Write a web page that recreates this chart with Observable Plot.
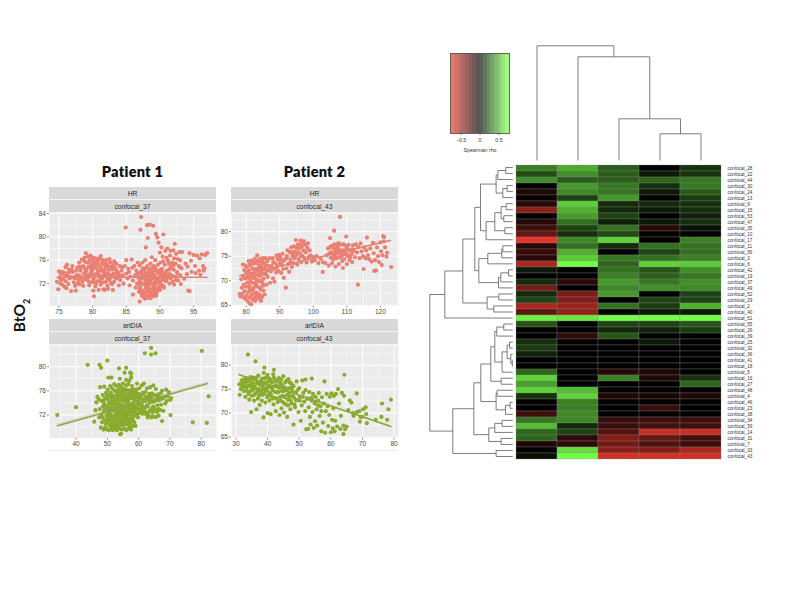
<!DOCTYPE html>
<html><head><meta charset="utf-8">
<script src="https://cdn.jsdelivr.net/npm/d3@7"></script>
<script src="https://cdn.jsdelivr.net/npm/@observablehq/plot@0.6"></script>
<style>
html,body{margin:0;padding:0;background:#fff}
#page{position:relative;width:792px;height:612px;overflow:hidden;font-family:"Liberation Sans",sans-serif}
#page>svg,#page>div{position:absolute}
.title{font:800 14.6px Lato,sans-serif;color:#111;text-align:center;letter-spacing:.2px}
.strip{background:#d9d9d9;color:#2a2a2a;font-size:6.7px;text-align:center;line-height:13px;border-bottom:.6px solid #f4f4f4;box-sizing:border-box}
</style></head><body><div id="page"></div>
<script>
const patient1HR = [
74.7,72.3,74.9,71,75,74.1,75.1,73,75.2,72,75.3,73.6,75.4,74,75.5,71.8,75.6,72.8,75.8,71.5,75.9,73.3,76,74.8,76,72.4,76.2,75.2,76.3,73.8,76.4,71.9,76.5,74.4,76.6,72.9,76.8,70.7,76.9,73.1,77,75,77.1,74,77.2,72.2,77.4,71.6,77.5,70.8,77.6,73.4,77.7,74.7,77.9,72.6,78,75.6,78.1,71.9,78.2,74.2,78.3,73,78.4,76.1,78.5,72.3,78.6,75,78.7,73.7,78.8,76.4,78.9,74.5,79,77.2,79,72.7,79.1,75.6,79.2,73.4,79.3,76.6,79.4,74.9,79.5,71.7,79.6,76,79.7,73.9,79.8,75.2,79.9,72.2,80,76.4,80,74.3,80.1,70.8,80.1,75.7,80.2,73,80.2,69.8,80.3,74.9,80.4,71.5,80.4,76.3,80.5,73.6,80.6,75.3,80.7,72.4,80.8,74.1,80.9,70.9,81,76.3,81,73.2,81.1,75,81.2,71.8,81.3,74.5,81.4,72.9,81.5,76,81.6,75.3,81.6,71,81.7,73.7,81.8,70.9,81.9,74.8,82,72.3,82,76,82.1,73.4,82.2,75.3,82.3,71.1,82.4,74.3,82.5,72.7,82.6,75.7,82.7,73.1,82.8,74.8,82.9,71.9,83,70.9,83,75.2,83.1,73.7,83.2,72.3,83.4,74.5,83.5,75.4,83.6,72.9,83.8,73.8,83.9,71.7,84,75,84.1,72.6,84.3,74.2,84.5,73.4,84.6,72,84.8,75,84.9,81.6,85,73.7,85,76,85.2,72.9,85.3,74.5,85.5,71.7,85.6,73.2,85.8,76.1,85.9,74.7,86,72.5,86,70.1,86.2,75,86.3,73.4,86.4,71.3,86.5,74.2,86.6,72,86.7,75.6,86.8,73,86.9,70.6,87,68.9,87,72.4,87,75.1,87.1,81.2,87.1,71.4,87.2,83.4,87.2,74,87.3,69.9,87.3,72.9,87.4,70.8,87.4,75.6,87.5,73.4,87.6,71.9,87.6,69.6,87.7,74.5,87.7,70.5,87.8,72.6,87.8,76,87.9,71.2,87.9,78.2,88,73.8,88,69.9,88.1,82,88.1,72.1,88.1,75,88.2,70.7,88.2,79.8,88.3,73.2,88.3,71.5,88.4,69.5,88.4,74.3,88.5,82.1,88.5,72.5,88.5,70.2,88.6,75.4,88.6,71,88.7,73.5,88.7,69.7,88.8,72,88.8,76.5,88.9,70.8,88.9,74,89,81.9,89,72.8,89,71.5,89.1,69.9,89.1,75,89.2,73.3,89.2,70.5,89.3,71.8,89.3,76,89.4,74.2,89.4,80.5,89.5,72.4,89.5,70.3,89.6,73,89.6,79.9,89.7,71.2,89.7,75.2,89.8,74,89.8,79,89.9,72,90,77.3,90,70.9,90.1,73.5,90.1,75.6,90.2,78.2,90.2,71.8,90.3,74.5,90.4,76.6,90.4,72.6,90.5,80.4,90.6,73.4,90.6,71.3,90.7,75.2,90.8,77.6,90.9,72.4,91,74.2,91,76.4,91.1,78,91.2,73.2,91.3,75.4,91.4,72,91.5,76.8,91.5,74.6,91.6,77.6,91.7,73.4,91.8,75.6,91.9,72.3,92,77.7,92,74.4,92.1,76.3,92.1,71.8,92.2,78.8,92.3,73.2,92.3,75.4,92.4,77.1,92.5,74,92.6,76.2,92.7,72.5,92.8,75,92.9,77.4,93,73.4,93,76,93.1,71.9,93.2,74.6,93.3,77.4,93.6,72.8,93.8,75.4,94,73.6,94.1,74.9,94.2,70.8,94.4,70.7,94.4,77.2,94.6,75.9,94.7,74,95,76.9,95.2,75,95.3,73.8,95.5,76.8,95.8,74.2,95.9,76.3,96,73.5,96.2,77,96.4,75,96.5,74.2,96.6,74.6,96.7,76.9,97,77.2
];
const patient1HRCore = [
75.3,72.6,75.7,73.9,76.1,71.2,76.7,74,77.3,73,77.8,72,78,73.4,78.3,74.8,78.6,71.6,78.9,73.2,79.1,74.4,79.4,72.3,79.4,75.7,79.7,76.8,79.9,74.7,80.1,72.7,80.3,75.7,80.5,71.9,80.7,76.1,80.9,73.6,81.1,72.4,81.2,76.7,81.4,74.2,81.6,72.2,81.8,75.6,82,73.7,82.2,71.6,82.3,74.9,82.5,76.2,82.7,72.1,82.9,74.4,83.2,75.8,83.3,73,83.6,74.1,84,73.4,84.4,74.8,86.9,73.8,87,71,87.2,70.4,87.3,73.5,87.5,74.6,87.5,70.1,87.7,72,87.8,69.4,87.9,73.3,88,71.5,88,74.7,88.2,72.6,88.3,69.9,88.4,70.9,88.4,73.8,88.6,72.2,88.6,69.5,88.7,74.6,88.8,70.4,88.9,71.9,89,73.6,89,70.6,89.2,72.1,89.3,74.6,89.4,71.1,89.4,69.9,89.6,72.4,89.7,73.8,89.8,70.9,90,74.3,90,72.3,90.2,73.1,90.5,75.8,90.5,71.6,90.8,73.8,91,72.7,91.2,75.9,91.4,73.6,91.7,75,92,73.2,92.4,72.6,92.6,73.8,93,74.8
];
const patient1HRFill = [
76.4,73.2,76.9,74.4,77.4,72.9,77.6,74.2,78,74.9,78.4,72.7,78.8,75.8,79,74,79.3,72.9,79.6,73.4,79.8,74.6,80,73.6,80.2,75.1,80.3,72.2,80.6,74.6,80.8,75.7,81,74.2,81.2,73,81.4,75.5,81.6,73.3,81.8,74.2,82,75,82.2,72.8,82.4,73.6,82.6,74.7,82.8,73.4,83.2,74.9,83.5,73.5,85.4,74,86.6,73.6,86.9,71.8,87.2,72.1,87.4,74.4,87.6,70.4,87.8,73.9,87.9,70,88.1,73,88.2,71.9,88.4,72.9,88.6,70.3,88.7,72.9,88.9,70.1,89,74.7,89.2,71.2,89.4,72.9,89.6,70.9,89.8,72.6,90,71.4,90.2,74,90.4,73.8,90.7,72.6,91,73.4,91.4,74.4,91.6,72.9,92,75.1
];
const patient1ArtDIA = [
34,72,40,73.3,43.7,80.3,47.5,80.3,48,79.8,50,81,50.3,78.2,51.3,78.2,53.7,79.7,56,79.8,55.5,79,57.3,79,57.6,78.8,54,78,56,77.8,57,77.7,57.6,78.2,62,82.2,64,83.1,64,82,65.4,82.2,80.2,82.6,82.4,75.1,77.3,70.8,81.8,70.7,70.2,72,54.1,68.8,54.4,68.9,67.5,71,62.9,71.6,64.4,71.8,65.6,71.7,
45.8,70.9,46.2,72.8,46.5,74.1,46.8,75,47.3,74.6,47.4,71.6,47.6,73,47.7,76.6,47.9,69.9,48.1,72,48.2,74.3,48.3,70.8,48.5,75.3,48.6,73.4,48.8,69.6,48.9,72.6,49,76.7,49.1,71.2,49.2,74.8,49.3,70,49.4,73.5,49.6,75.7,49.7,71.9,49.8,69.7,49.9,72.9,50,74.6,50,70.7,50.1,76.2,50.2,73.4,50.3,69.5,50.4,71.5,50.5,75.2,50.6,72.4,50.7,70.3,50.8,74.1,50.9,76.8,51,69.6,51,73,51.1,71.1,51.2,75.4,51.3,72,51.4,70,51.5,74.4,51.6,76.4,51.7,73.3,51.8,69.5,51.9,71.4,52,75,52,72.7,52.1,70.4,52.2,77.1,52.3,74,52.4,69.7,52.5,71.9,52.6,73.5,52.7,75.9,52.8,70.7,52.9,72.8,53,76.8,53,74.6,53.1,69.5,53.2,71.2,53.3,73.2,53.4,75.4,53.5,70.2,53.6,72.3,53.7,77,53.8,74,53.9,69.8,54,71.5,54,73.3,54.1,75.9,54.2,70.7,54.3,72.8,54.4,76.6,54.5,74.7,54.6,69.6,54.7,71.9,54.8,73.6,54.9,75.4,55,70.3,55,77.2,55.1,72.4,55.2,74.3,55.3,71.2,55.4,76.2,55.5,69.7,55.6,73.1,55.7,75,55.8,70.9,55.9,72.5,56,76.9,56,74.2,56.1,69.5,56.2,71.6,56.3,73.7,56.4,75.6,56.5,70.4,56.6,72.7,56.7,77.1,56.8,74.6,56.9,69.8,57,71.4,57,73.3,57.1,76.1,57.2,70.7,57.3,72.2,57.4,74.9,57.5,75.8,57.6,69.6,57.7,73.8,57.8,71.5,57.9,76.8,58,72.8,58.1,75,58.2,70.2,58.3,74,58.4,71.9,58.5,73.1,58.6,76.2,58.8,72.6,58.9,74.8,59,70.2,59.1,73.6,59.2,75.7,59.4,72.1,59.5,77.2,59.6,74.3,59.8,73,60,75.5,60,72.3,60.2,76.4,60.3,74,60.5,73,60.7,75.2,60.9,72.7,61,76.9,61,74,61.2,73.4,61.4,75.4,61.6,72.6,61.7,77.2,61.8,74.4,62,73.2,62.2,75.8,62.4,72.1,62.5,74.6,62.7,76.4,62.9,73.4,63,75,63.2,71.9,63.4,74,63.6,72.7,63.7,76.6,63.9,74.8,64,73,64.1,71.6,64.3,75.6,64.5,72.4,64.7,76.9,64.8,74.2,65,73.1,65.1,75.3,65.3,71.7,65.5,76.3,65.7,74.5,65.9,72.5,66,73.6,66.2,75.4,66.4,71.9,66.6,74.4,66.9,72.8,67,75.6,67.2,73.7,67.5,76,67.7,74.7,67.9,72.7,68.2,75,68.5,73.9,68.8,76.2,69,74.3,69.3,75.1,69.7,75.8,70.1,74.5,70.4,74.8
];
const patient1ArtDIACore = [
48.4,71.6,48.8,74.4,49.2,72.9,49.5,70.6,49.9,75.3,50.2,72.1,50.5,74,50.7,71.1,51,75.7,51.2,73.7,51.3,70.6,51.6,72.8,51.8,75.2,52,71.1,52.2,73.2,52.3,76,52.5,70.3,52.6,74.7,52.8,72.2,53,70.1,53.1,75.3,53.2,73.9,53.4,71.8,53.5,76.2,53.6,74.8,53.8,70.7,53.9,72.7,54.1,74.4,54.2,71.8,54.3,75.3,54.5,73.3,54.6,70.4,54.8,76.4,54.9,72.5,55,74.7,55.1,71,55.2,73.1,55.4,75.2,55.5,70.5,55.6,72.3,55.8,74.2,55.9,76.2,56,71.5,56.1,73.4,56.2,70.5,56.3,75,56.5,72,56.6,74.1,56.7,76,56.9,71,57,72.6,57.1,74.7,57.2,75.5,57.3,70.1,57.5,73.2,57.7,71,57.8,74.8,58,76.2,58,71.7,58.2,73.4,58.4,75.4,58.6,70.8,58.7,74.4,59,72.3,59.3,76.2,59.5,73.6,59.8,71.6,60.2,74.7,60.5,72.4,60.8,73.8,61.2,72.2,61.5,74.6,62,72.6,62.4,75,63,72.4,63.4,75.5,64,74.2,64.6,73.4,65.2,74.3,66,75.1,66.4,73
];
const patient1ArtDIAFill = [
49,73.9,49.7,73.2,50,71.3,50.4,73,50.9,72.7,51.1,74.9,51.4,71.6,51.7,74,52,70.8,52.2,74.4,52.5,72.9,52.8,73.7,53,71.7,53.2,74.9,53.5,72.9,53.7,70.8,53.8,75.9,54,72.3,54.2,73.7,54.4,71.3,54.7,75,54.8,70.9,55,73.6,55.1,75.8,55.3,72.1,55.5,74.6,55.7,71.7,55.8,73.3,56,70.9,56.2,74.8,56.4,72.2,56.6,73.2,56.7,71.3,56.9,75.3,57,72.1,57.2,73.7,57.4,70.9,57.5,72.6,57.7,75.1,57.9,73.6,58.1,71.3,58.3,75.7,58.5,72.5,58.8,73.4,59,75.1,59.2,71.9,59.4,73.1,59.6,75.1,60,73.7,60.3,72.9,60.6,74.7,61,72.9,61.3,75.7,62,74.3,62.6,73.6,63.2,74.5,64,75.2,64.4,72.9,65.4,72.8,66.8,74.9
];
const patient2HR = [
78,67.3,78.3,66.8,78.5,70.3,78.7,68.6,78.9,67.4,79,71,79,73.3,79.2,66.6,79.3,69.2,79.4,72.2,79.5,67.9,79.6,70.5,79.7,73.1,79.8,66.3,79.9,68.8,80,71.6,80.1,67,80.2,72.8,80.3,69.7,80.4,65.9,80.5,70.9,80.6,67.7,80.7,74,80.8,72.1,80.9,69,81,65.4,81,66.6,81.1,70.4,81.2,73.1,81.3,68.1,81.4,71.4,81.5,65.2,81.6,67.2,81.7,74.1,81.8,69.6,81.9,72.5,82,66.1,82.1,70.6,82.2,68.6,82.3,73.5,82.4,71.5,82.5,67.4,82.6,74.5,82.7,65.9,82.8,69.4,82.9,72.4,83,70.3,83.1,67.6,83.2,73.6,83.3,75.2,83.4,68.8,83.5,71.3,83.6,66.4,83.7,74.1,83.8,69.9,83.9,72.6,84,67.2,84.1,70.9,84.2,74.5,84.3,68.2,84.4,65.9,84.5,72,84.6,73.4,84.7,66.7,84.8,69.6,84.9,71.4,85,73.8,85.1,68,85.2,70.4,85.4,72.6,85.5,67.2,85.7,74.6,85.9,71.3,86,69.2,86.1,73.1,86.4,70.8,86.7,72.2,86.9,74.6,87.1,69.6,87.3,71.9,87.6,73,87.9,74.6,88,70.5,88.2,72.4,88.4,69.8,88.6,73.6,88.9,71.7,89,75.1,89.2,73,89.4,74.4,89.6,72,89.8,75.3,90,73.6,90.2,74.7,90.4,71.6,90.6,73.2,90.8,75.5,91,72.4,91.2,70.6,91.5,74.3,91.8,68.6,92,72.5,92.1,75,92.3,76.2,92.5,73.4,92.8,71.8,93,75.8,93.2,74.3,93.4,76.8,93.6,72.8,93.8,75.1,94,73.6,94.2,77,94.4,74.6,94.6,76,94.8,78.3,95,75.2,95.2,73.3,95.4,77.4,95.6,74.4,95.8,76.6,96,75.6,96.2,78.2,96.4,73.8,96.6,77,96.8,75,97,76.2,97.2,78.1,97.4,74.6,97.6,77.3,97.8,75.8,98,73.7,98.2,76.7,98.4,77.6,98.6,74.8,98.9,76.2,99.2,75.2,99.6,73.9,100,74.8,100.4,74.2,101,75,101.5,73.6,102.2,74.5,102.8,71.8,102.8,73.8,103.6,73.6,104,75.2,104.4,76.6,104.6,73.1,104.8,75.6,105,78.7,105,76.8,105.2,74.7,105.4,77.1,105.6,73.6,105.8,75.8,106,76.7,106,74.4,106.2,80.2,106.3,77.4,106.4,75.2,106.6,72.9,106.8,76.2,107,74.6,107.2,77,107.4,75.6,107.6,73.4,107.8,76.4,108,83,108,74.8,108.2,77.4,108.4,75.7,108.6,74,108.8,72.6,109,76.2,109.2,74.4,109.4,77.2,109.6,75.4,109.8,79,110,73.4,110,76.6,110.2,75,110.5,77.3,110.8,74.2,111,76.2,111.3,75.4,111.6,73.8,111.8,77.2,112,76,112.4,74.8,112.7,77.4,113,75.8,113.3,69.2,113.4,76.9,113.8,74.6,114.1,77.6,114.4,76,114.8,75,115,72.4,115.2,76.8,115.5,74.6,115.8,76.2,116,78.8,116.3,75.2,116.6,74.4,117,76.6,117.4,73.9,117.8,77.7,118,75.6,118.2,72,118.4,74.2,118.7,72.1,119,76.8,119.3,75,119.6,73.8,120,77.8,120.2,76,120.4,73.2,120.6,75.2,120.8,79.1,121,78,121.1,78.9,121.4,76.8,121.8,74.9,122,75.7,123.2,72.8
];
const patient2HRCore = [
80.2,70.6,80.6,72,81,68.4,81,73.4,81.3,69.8,81.6,70.7,81.8,66.4,82,73.6,82,68,82.2,72.3,82.4,69.6,82.6,66.6,82.7,71,83,73.9,83,69,83.3,67,83.4,72.3,83.6,70,83.8,73,84,68.6,84,71.6,84.2,66.7,84.4,73.8,84.5,70,84.7,72.6,85,69,85,74.6,85.3,71.4,85.6,73.4,86,72,86.3,74,87,73,88,73.8,89,72.7,90,74.4,91,74,92,74.6,93,73.6,93.6,75.9,94.3,75.6,95,76.8,95.4,75.8,96,77.4,96.4,75,97,77.6,97.4,76,105.2,75.8,105.6,77,106,75.2,106.4,76.6,106.8,74.6,107,75.8,107.4,77.6,107.8,74.8,108.2,76,108.6,75.2,109,77.4,109.4,75.8,110,75.4,110.6,76.2,111,74.8,111.6,76.4
];
const patient2ArtDIA = [
33.8,82.2,36.2,80.8,39,79.5,42,79,64.3,78,31.1,76,31.2,73.8,31.5,75,31.8,76.7,32,75.6,32.2,77,32.5,74.6,32.8,76.1,33,73.4,33.2,77.3,33.4,75.3,33.7,76.6,34,74,34.2,72.8,34.4,75.8,34.6,77.5,34.8,70.2,35,73.6,35,76.4,35.3,74.8,35.5,77.4,35.7,72.6,35.9,75.6,36.1,77,36.3,74.1,36.5,70.8,36.7,76.2,36.9,73,37.1,77.8,37.3,75,37.5,71.7,37.7,73.9,37.9,76.7,38,74.7,38.2,72.6,38.3,77.2,38.5,75.5,38.7,69.1,38.8,78.4,39,74,39.1,76.3,39.3,72.2,39.5,77.4,39.7,75.1,39.9,73.3,40,70,40,78,40.2,76.6,40.4,74.4,40.6,72.6,40.8,77,41,75.4,41,69.8,41.2,73.6,41.4,76.5,41.6,74.8,41.8,78.1,41.9,71.8,42,77.4,42.2,73.2,42.4,75.6,42.6,70.4,42.8,76.9,43,74.3,43.2,72.3,43.4,75.3,43.6,77.3,43.8,69.6,44,73.4,44.2,76.2,44.4,71,44.6,74.6,44.8,72.3,45,77.7,45,75.4,45.2,70.1,45.4,73.3,45.6,76.4,45.8,71.8,46,74.8,46.2,69.2,46.4,72.8,46.6,77.1,46.8,75.2,47,73.4,47.2,70.8,47.4,76.2,47.6,72,47.8,74.6,48,75.8,48.2,67.6,48.4,73.2,48.7,71.2,49,74.3,49.2,76.6,49.5,72.7,49.8,70.2,50,75.2,50.2,73.4,50.5,68.4,50.8,71.6,51,76.8,51.3,74.2,51.6,72.4,51.9,70.4,52,77,52.2,66.6,52.5,73,52.8,66.7,53,71.2,53.2,74.4,53.4,69.2,53.6,67.6,53.9,72.6,54,77.2,54.2,70.2,54.4,74,54.6,66.9,54.9,72,55,68.3,55.2,73.4,55.5,70.8,55.7,67.4,56,72.6,56.2,74.2,56.5,69.4,56.7,71.4,57,66.2,57.2,73.3,57.5,68,57.8,72,58,76.6,58.2,65.9,58.4,70.4,58.7,74,59,71.4,59.2,67.3,59.5,69.6,59.7,73.4,60,66,60.2,74.1,60.4,68.6,60.6,66.8,60.8,71,61,73.6,61.2,66.2,61.4,68.4,61.6,74,62,67.2,62.3,75,62.6,72,63,66.7,63.2,69.4,63.5,74.2,64,65.6,64,67.4,64.2,73.6,64.5,66.6,65,67.2,65.5,70.6,66,72.6,66.5,72.2,67,70,67.2,69.4,68.2,74.1,68.2,70.2,69,70.4,69.2,68.2,69.4,69.2,70,69.2,70.2,70.8,71,71.2,71.2,69.8,71.4,67.9,74.2,68.6,76,69.2,76.2,72,77.8,68.6,78.2,70.8,79,72.8
];
const patient2ArtDIACore = [
32,76.2,32.6,75.4,33.1,76.8,33.6,74.6,33.9,75.8,34.3,77,34.7,74.6,35,75.4,35.4,76.2,35.8,73.8,36.2,75.2,36.5,77.4,36.8,74.6,37,76.4,37.3,73.6,37.6,75.9,37.9,74.4,38.2,76,38.5,73.8,38.8,75.1,39,77.2,39.3,74.6,39.6,76.1,39.9,75.3,40.2,73.6,40.4,77.3,40.7,75.6,41,74,41.3,76.4,41.6,73,41.8,75.5,42.1,76.6,42.4,74.4,42.7,75.8,43,73,43.2,76.6,43.5,74.4,43.8,75.6,44.1,72.6,44.3,77,44.6,75.8,44.8,73.6,45.1,74.6,45.4,72,45.7,75.2,46,76.8,46.2,73.8,46.5,71.6,46.8,74.2,47,76.4,47.3,72.6,47.6,75.2,47.9,73.6,48.2,75.6,48.5,71.8,49,72.7,49.5,74.8,50.2,72.6,51,73.4,52,74.8,53,73,54,73.2,55,72.2,56,71.6,57,70.4
];

const smoothLines = {
  hr1:[[74.7,73.05],[97,73.05]], art1:[[34,70.2],[82,77.2]],
  hr2:[[78,71],[123,78.2]], art2:[[31,78],[79,67.2]]
};
const smoothBand = {hr1:0.12, art1:0.28, hr2:0.12, art2:0.2};

const panelHeaders = ["HR","artDIA"];
const patientTitles = ["Patient 1","Patient 2"];
const probes = ["confocal_37","confocal_43"];

const rowLabels = ["confocal_28","confocal_22","confocal_44","confocal_30","confocal_24","confocal_13","confocal_9","confocal_15","confocal_53","confocal_47","confocal_35","confocal_10","confocal_17","confocal_11","confocal_56","confocal_3","confocal_6","confocal_42","confocal_19","confocal_37","confocal_49","confocal_52","confocal_29","confocal_2","confocal_40","confocal_51","confocal_55","confocal_26","confocal_39","confocal_25","confocal_32","confocal_36","confocal_41","confocal_18","confocal_5","confocal_16","confocal_27","confocal_48","confocal_4","confocal_46","confocal_23","confocal_38","confocal_34","confocal_59","confocal_14","confocal_31","confocal_7","confocal_33","confocal_43"];
const heatColumns = ["a","b","c","d","e"];
const heatValues = [
[.38,.5,.27,0,.15],[.22,.42,.27,.08,.15],[.42,.27,.27,.3,.35],[0,.45,.35,.14,.35],[-.1,.4,.35,.08,.27],[-.02,.2,.45,0,.17],[-.13,.6,.13,.12,.14],[-.45,.52,.12,.08,.13],[0,.46,.2,0,.1],[-.12,.33,.09,.07,.14],[-.2,.2,.33,-.13,.06],[-.32,.14,.22,-.02,0],[-.75,.4,.62,0,.38],[-.13,.33,.13,.33,.33],[-.17,.52,0,.2,.33],[-.13,.6,.35,.33,.38],[-.55,.75,.3,.62,.6],[.08,0,.33,.25,.42],[0,0,.38,.28,.35],[.13,-.13,.45,.35,.42],[-.38,0,.4,.42,.4],[.13,-.4,.45,0,.2],[.2,-.42,0,.2,.2],[-.55,-.5,.33,.17,.52],[-.3,-.47,0,.07,.08],
[.7,.68,.75,.75,.75],[.25,0,.2,.2,.25],[0,0,.12,.1,.18],[0,-.15,.25,0,0],[.14,0,0,.08,0],[.17,0,0,0,0],[.1,0,0,0,0],[0,0,0,0,0],[0,0,0,0,0],[.3,0,-.12,-.1,0],[.62,0,.38,-.1,.15],[.47,0,0,0,.3],[.62,.55,0,0,0],[.15,.62,-.1,-.08,-.1],[0,.38,0,0,0],[0,.38,0,-.18,0],[-.2,.4,0,0,0],[.35,.4,-.17,-.2,-.2],[.55,.12,-.18,-.22,-.2],[.3,.2,-.28,-.65,-.65],[.3,-.14,-.42,-.33,-.22],[-.1,-.15,-.38,-.25,-.18],[0,.65,-.45,-.42,-.55],[.05,.75,-.68,-.68,-.68]
];
const keyBreaks = [-.78,-.68,-.58,-.49,-.39,-.29,-.19,-.1,0,.1,.19,.29,.39,.49,.58,.68,.78];

// dendrograms: [height, child, child]; a bare number is a leaf
const rowTree = [8.3,
 [6.8,
  [5.0,
   [3.8,
    [3.23,
     [1.67,[1.5,[.7,0,1],2],[1.0,[.57,3,4],5]],
     [2.67,[1.8,[1.17,[.67,6,7],[.9,8,9]],[.8,10,11]],12]],
    [3.4,
     [2.5,[1.1,[1.0,13,14],15],16],
     [1.43,[1.2,[.43,17,18],19],20]]],
   [2.57,[1.4,21,22],[1.9,23,24]]],
  25],
 [6.0,
  [3.9,
   [3.2,
    [2.2,
     [1.8,
      [1.6,[.9,26,27],28],
      [1.07,[.57,[.33,29,30],[.2,31,[.05,32,33]]],34]],
     [1.17,35,36]],
    [1.67,[1.57,37,38],[.73,[.27,39,40],41]]],
   [2.4,[1.8,[1.07,42,43],44],[1.17,45,46]]],
  [1.67,47,48]]];
const colTree = [11.47,0,[10.37,1,[4.17,2,[2.67,3,4]]]];

const page = document.getElementById("page");
function put(el,left,top){el.style.left=left+"px";el.style.top=top+"px";page.appendChild(el);return el;}
function pairs(a){const o=[];for(let i=0;i<a.length;i+=2)o.push({x:a[i],y:a[i+1]});return o;}

const axisFont = {fontSize:6.6, fill:"#4d4d4d"};
function panel({left,top,data,color,xDomain,yDomain,xMajor,xMinor,yMajor,yMinor,line,band}){
  const w=167,h=92.5,mL=20,mB=14,mR=2,mT=1;
  const ribbon=[{x:line[0][0],y1:line[0][1]-band,y2:line[0][1]+band},{x:line[1][0],y1:line[1][1]-band,y2:line[1][1]+band}];
  const chart=Plot.plot({
    width:w+mL+mR,height:h+mB+mT,marginLeft:mL,marginRight:mR,marginTop:mT,marginBottom:mB,
    style:{fontFamily:"Liberation Sans",background:"transparent",overflow:"visible"},
    x:{domain:xDomain},y:{domain:yDomain},
    marks:[
      Plot.frame({fill:"#ebebeb",stroke:null}),
      Plot.ruleX(xMinor,{stroke:"#fff",strokeWidth:.5}),
      Plot.ruleY(yMinor,{stroke:"#fff",strokeWidth:.5}),
      Plot.ruleX(xMajor,{stroke:"#fff",strokeWidth:1}),
      Plot.ruleY(yMajor,{stroke:"#fff",strokeWidth:1}),
      Plot.dot(pairs(data),{x:"x",y:"y",r:2.1,fill:color,stroke:null}),
      Plot.areaY(ribbon,{x:"x",y1:"y1",y2:"y2",fill:"#999",fillOpacity:.3}),
      Plot.line(line,{x:d=>d[0],y:d=>d[1],stroke:color,strokeWidth:1.4}),
      Plot.axisX({ticks:xMajor,tickFormat:d=>String(d),tickSize:2,tickPadding:1.5,label:null,stroke:"#444",strokeWidth:.6,...axisFont,tickSpacing:10}),
      Plot.axisY({ticks:yMajor,tickFormat:d=>String(d),tickSize:2,tickPadding:1.5,label:null,stroke:"#444",strokeWidth:.6,...axisFont})
    ]});
  put(chart,left-mL,top-mT);
}
function strip(left,top,text){
  const d=document.createElement("div");d.className="strip";d.textContent=text;
  d.style.width="167px";d.style.height="13px";put(d,left,top);
}
function rule(left,top){const d=document.createElement("div");d.style.cssText="width:167px;height:1px;background:#ececec";put(d,left,top);}

const L=[49,231];
panelHeaders.forEach((hd,row)=>{L.forEach((x,col)=>{
  const t=row?319:187;
  strip(x,t,hd);strip(x,t+13,probes[col]);
  if(row)rule(x,450);
});});

panel({left:49,top:213,data:patient1HR.concat(patient1HRCore,patient1HRFill),color:"#ea7f72",xDomain:[73.6,98.4],yDomain:[68.15,84],
  xMajor:[75,80,85,90,95],xMinor:[77.5,82.5,87.5,92.5,97.5],yMajor:[72,76,80,84],yMinor:[70,74,78,82],line:smoothLines.hr1,band:smoothBand.hr1});
panel({left:49,top:345,data:patient1ArtDIA.concat(patient1ArtDIACore,patient1ArtDIAFill),color:"#8aab2e",xDomain:[31.5,84.9],yDomain:[68.2,83.5],
  xMajor:[40,50,60,70,80],xMinor:[35,45,55,65,75],yMajor:[72,76,80],yMinor:[70,74,78,82],line:smoothLines.art1,band:smoothBand.art1});
panel({left:231,top:213,data:patient2HR.concat(patient2HRCore),color:"#ea7f72",xDomain:[75.6,125.4],yDomain:[64.86,83.7],
  xMajor:[80,90,100,110,120],xMinor:[85,95,105,115,125],yMajor:[65,70,75,80],yMinor:[67.5,72.5,77.5,82.5],line:smoothLines.hr2,band:smoothBand.hr2});
panel({left:231,top:345,data:patient2ArtDIA.concat(patient2ArtDIACore),color:"#8aab2e",xDomain:[28.6,81.4],yDomain:[64.8,84.1],
  xMajor:[30,40,50,60,70,80],xMinor:[35,45,55,65,75],yMajor:[65,70,75,80],yMinor:[67.5,72.5,77.5,82.5],line:smoothLines.art2,band:smoothBand.art2});

patientTitles.forEach((t,i)=>{
  const d=document.createElement("div");d.className="title";d.textContent=t;
  d.style.width="167px";put(d,L[i],163);
});
{const d=document.createElement("div");
 d.innerHTML='BtO<sub style="font-size:9px">2</sub>';
 d.style.cssText="font:700 15.5px Lato,sans-serif;color:#111;transform:rotate(-90deg);transform-origin:center;white-space:nowrap;width:50px;text-align:center";
 put(d,-4,305);}

// heatmap
const colorScale={type:"linear",domain:[-.75,0,.75],range:["#e8342a","#000000","#74ff47"],clamp:true};
const heatCells=rowLabels.flatMap((r,i)=>heatColumns.map((c,j)=>({r,c,v:heatValues[i][j]})));
put(Plot.plot({
  width:292,height:295,marginLeft:0,marginRight:87,marginTop:0,marginBottom:0,
  style:{fontFamily:"Liberation Sans",background:"transparent",overflow:"visible"},
  x:{domain:heatColumns,padding:0,axis:null},
  y:{domain:rowLabels,padding:0},
  color:colorScale,
  marks:[
    Plot.cell(heatCells,{x:"c",y:"r",fill:"v",stroke:"#8a8a8a",strokeWidth:.5,strokeOpacity:.6,inset:0}),
    Plot.axisY({anchor:"right",tickSize:0,tickPadding:6,label:null,fontSize:4.6,fill:"#333"})
  ]}),516,164);

function segments(node,out){
  if(typeof node==="number")return {pos:node,h:0};
  const [h,a,b]=node;const A=segments(a,out),B=segments(b,out);
  out.push({h1:h,p1:A.pos,h2:A.h,p2:A.pos},{h1:h,p1:B.pos,h2:B.h,p2:B.pos},{h1:h,p1:A.pos,h2:h,p2:B.pos});
  return {pos:(A.pos+B.pos)/2,h};
}
const rowSegs=[];segments(rowTree,rowSegs);
const colSegs=[];segments(colTree,colSegs);
const dendroStroke={stroke:"#6e6e6e",strokeWidth:.9};

put(Plot.plot({
  width:95,height:295,margin:0,
  style:{background:"transparent",overflow:"visible"},
  x:{domain:[9,0],range:[2.3,92.3],axis:null},
  y:{domain:[-.5,48.5],range:[0,295],axis:null},
  marks:[Plot.link(rowSegs,{x1:"h1",y1:"p1",x2:"h2",y2:"p2",...dendroStroke})]
}),420,164);

put(Plot.plot({
  width:205,height:120,margin:0,
  style:{background:"transparent",overflow:"visible"},
  y:{domain:[0,12],range:[120,0],axis:null},
  x:{domain:[-.5,4.5],axis:null},
  marks:[Plot.link(colSegs,{x1:"p1",y1:"h1",x2:"p2",y2:"h2",...dendroStroke})]
}),516,40);

// colour key
const keyBands=keyBreaks.slice(0,-1).map((b,i)=>({x1:b,x2:keyBreaks[i+1],v:(b+keyBreaks[i+1])/2}));
put(Plot.plot({
  width:79,height:120,marginLeft:10,marginRight:10,marginTop:1,marginBottom:39,
  style:{fontFamily:"Liberation Sans",background:"transparent",overflow:"visible"},
  x:{domain:[-.78,.78]},y:{domain:[0,1],axis:null},
  color:colorScale,
  marks:[
    Plot.rect(keyBands,{x1:"x1",x2:"x2",y1:0,y2:1,fill:"v",fillOpacity:.67,shapeRendering:"crispEdges"}),
    Plot.frame({stroke:"#555",strokeWidth:.9}),
    Plot.axisX({ticks:[-.5,0,.5],tickFormat:d=>d===0?"0":(d<0?"\u22120.5":"0.5"),tickSize:2,tickPadding:3,fontSize:5.2,fill:"#333",stroke:"#333",strokeWidth:.6,label:null}),
    Plot.text(["Spearman rho"],{frameAnchor:"bottom",dy:18.5,fontSize:5.2,fill:"#333"})
  ]}),440,52);
</script></body></html>
